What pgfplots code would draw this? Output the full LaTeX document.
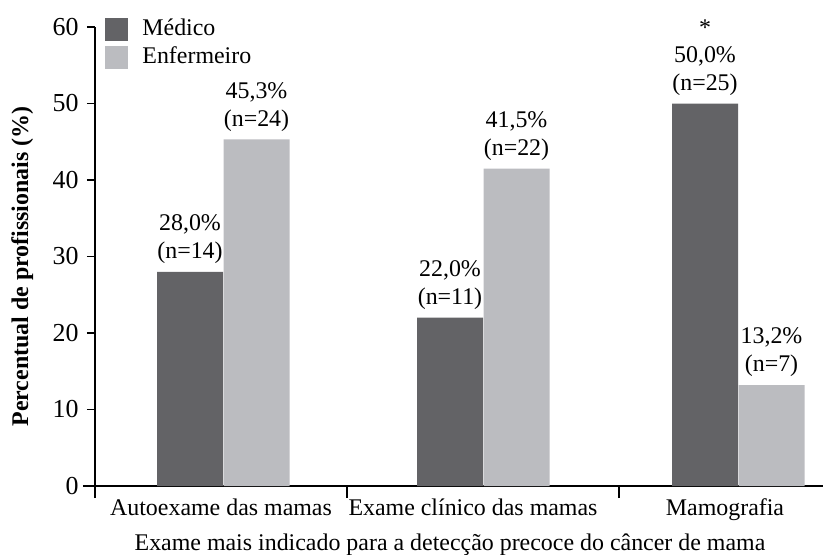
\documentclass[border=0pt]{standalone}
\usepackage{fontspec}
\setmainfont{Liberation Serif}
\usepackage{pgfplots}
\pgfplotsset{compat=1.18}
\definecolor{dk}{RGB}{99,99,102}
\definecolor{lt}{RGB}{187,188,192}
\begin{document}
\fontsize{12}{14}\selectfont
\begin{tikzpicture}
\path[use as bounding box] (-47.5bp,-34.5bp) rectangle (364bp,243bp);
\begin{axis}[
  at={(0,0)}, anchor=south west,
  scale only axis, width=364bp, height=229.5bp,
  xmin=0, xmax=728, ymin=0, ymax=60,
  axis x line*=bottom, axis y line*=left,
  axis line style={line width=0.7bp, black},
  every tick/.style={line width=0.7bp, black},
  tick align=outside,
  ytick={0,10,...,60},
  yticklabel style={font=\fontsize{13}{15}\selectfont},
  major tick length=4bp,
  extra y ticks={0},
  extra y tick labels={},
  extra y tick style={major tick length=6bp},
  xtick={126,378,630},
  xticklabels={Autoexame das mamas, Exame clínico das mamas, Mamografia},
  xticklabel style={anchor=base, yshift=-10.5bp},
  x tick style={draw=none},
  extra x ticks={0,252,524},
  extra x tick labels={},
  extra x tick style={major tick length=6bp, x tick style={draw=black}},
  /pgf/number format/assume math mode=true,
  xlabel={Exame mais indicado para a detecção precoce do câncer de mama},
  ylabel={Percentual de profissionais (\%)},
  every axis x label/.style={at={(axis description cs:0.4876,0)}, yshift=-32bp, anchor=base},
  every axis y label/.style={at={(axis description cs:-0.092,0.478)}, rotate=90, anchor=base, font=\bfseries},
  legend style={at={(axis cs:10,61.6)}, anchor=north west, draw=none, fill=none, inner sep=0pt, row sep=0bp,
    nodes={inner sep=1bp, text height=9bp, text depth=3bp},
    /tikz/every odd column/.append style={column sep=6bp}},
  legend cell align=left,
  clip=false,
]
\addplot[ybar, bar width=66, bar shift=0pt, fill=dk, draw=none,
  legend image code/.code={\fill[dk] (0bp,-5.75bp) rectangle (11.5bp,5.75bp);},
  nodes near coords={\pct\%\\(n=\nval)},
  nodes near coords align={vertical},
  every node near coord/.append style={align=center, text=black, anchor=south},
  visualization depends on={value \thisrow{pct}\as\pct},
  visualization depends on={value \thisrow{n}\as\nval},
] table {
x y pct n
95 28.0 28,0 14
355 22.0 22,0 11
610 50.0 50,0 25
};
\addlegendentry{Médico}
\addplot[ybar, bar width=66, bar shift=0pt, fill=lt, draw=none,
  legend image code/.code={\fill[lt] (0bp,-5.75bp) rectangle (11.5bp,5.75bp);},
  nodes near coords={\pct\%\\(n=\nval)},
  nodes near coords align={vertical},
  every node near coord/.append style={align=center, text=black, anchor=south},
  visualization depends on={value \thisrow{pct}\as\pct},
  visualization depends on={value \thisrow{n}\as\nval},
] table {
x y pct n
161.5 45.3 45,3 24
421.5 41.5 41,5 22
676.5 13.2 13,2 7
};
\addlegendentry{Enfermeiro}
\node[anchor=base, inner sep=0pt] at (axis cs:610,58.9) {*};
\end{axis}
\end{tikzpicture}
\end{document}
